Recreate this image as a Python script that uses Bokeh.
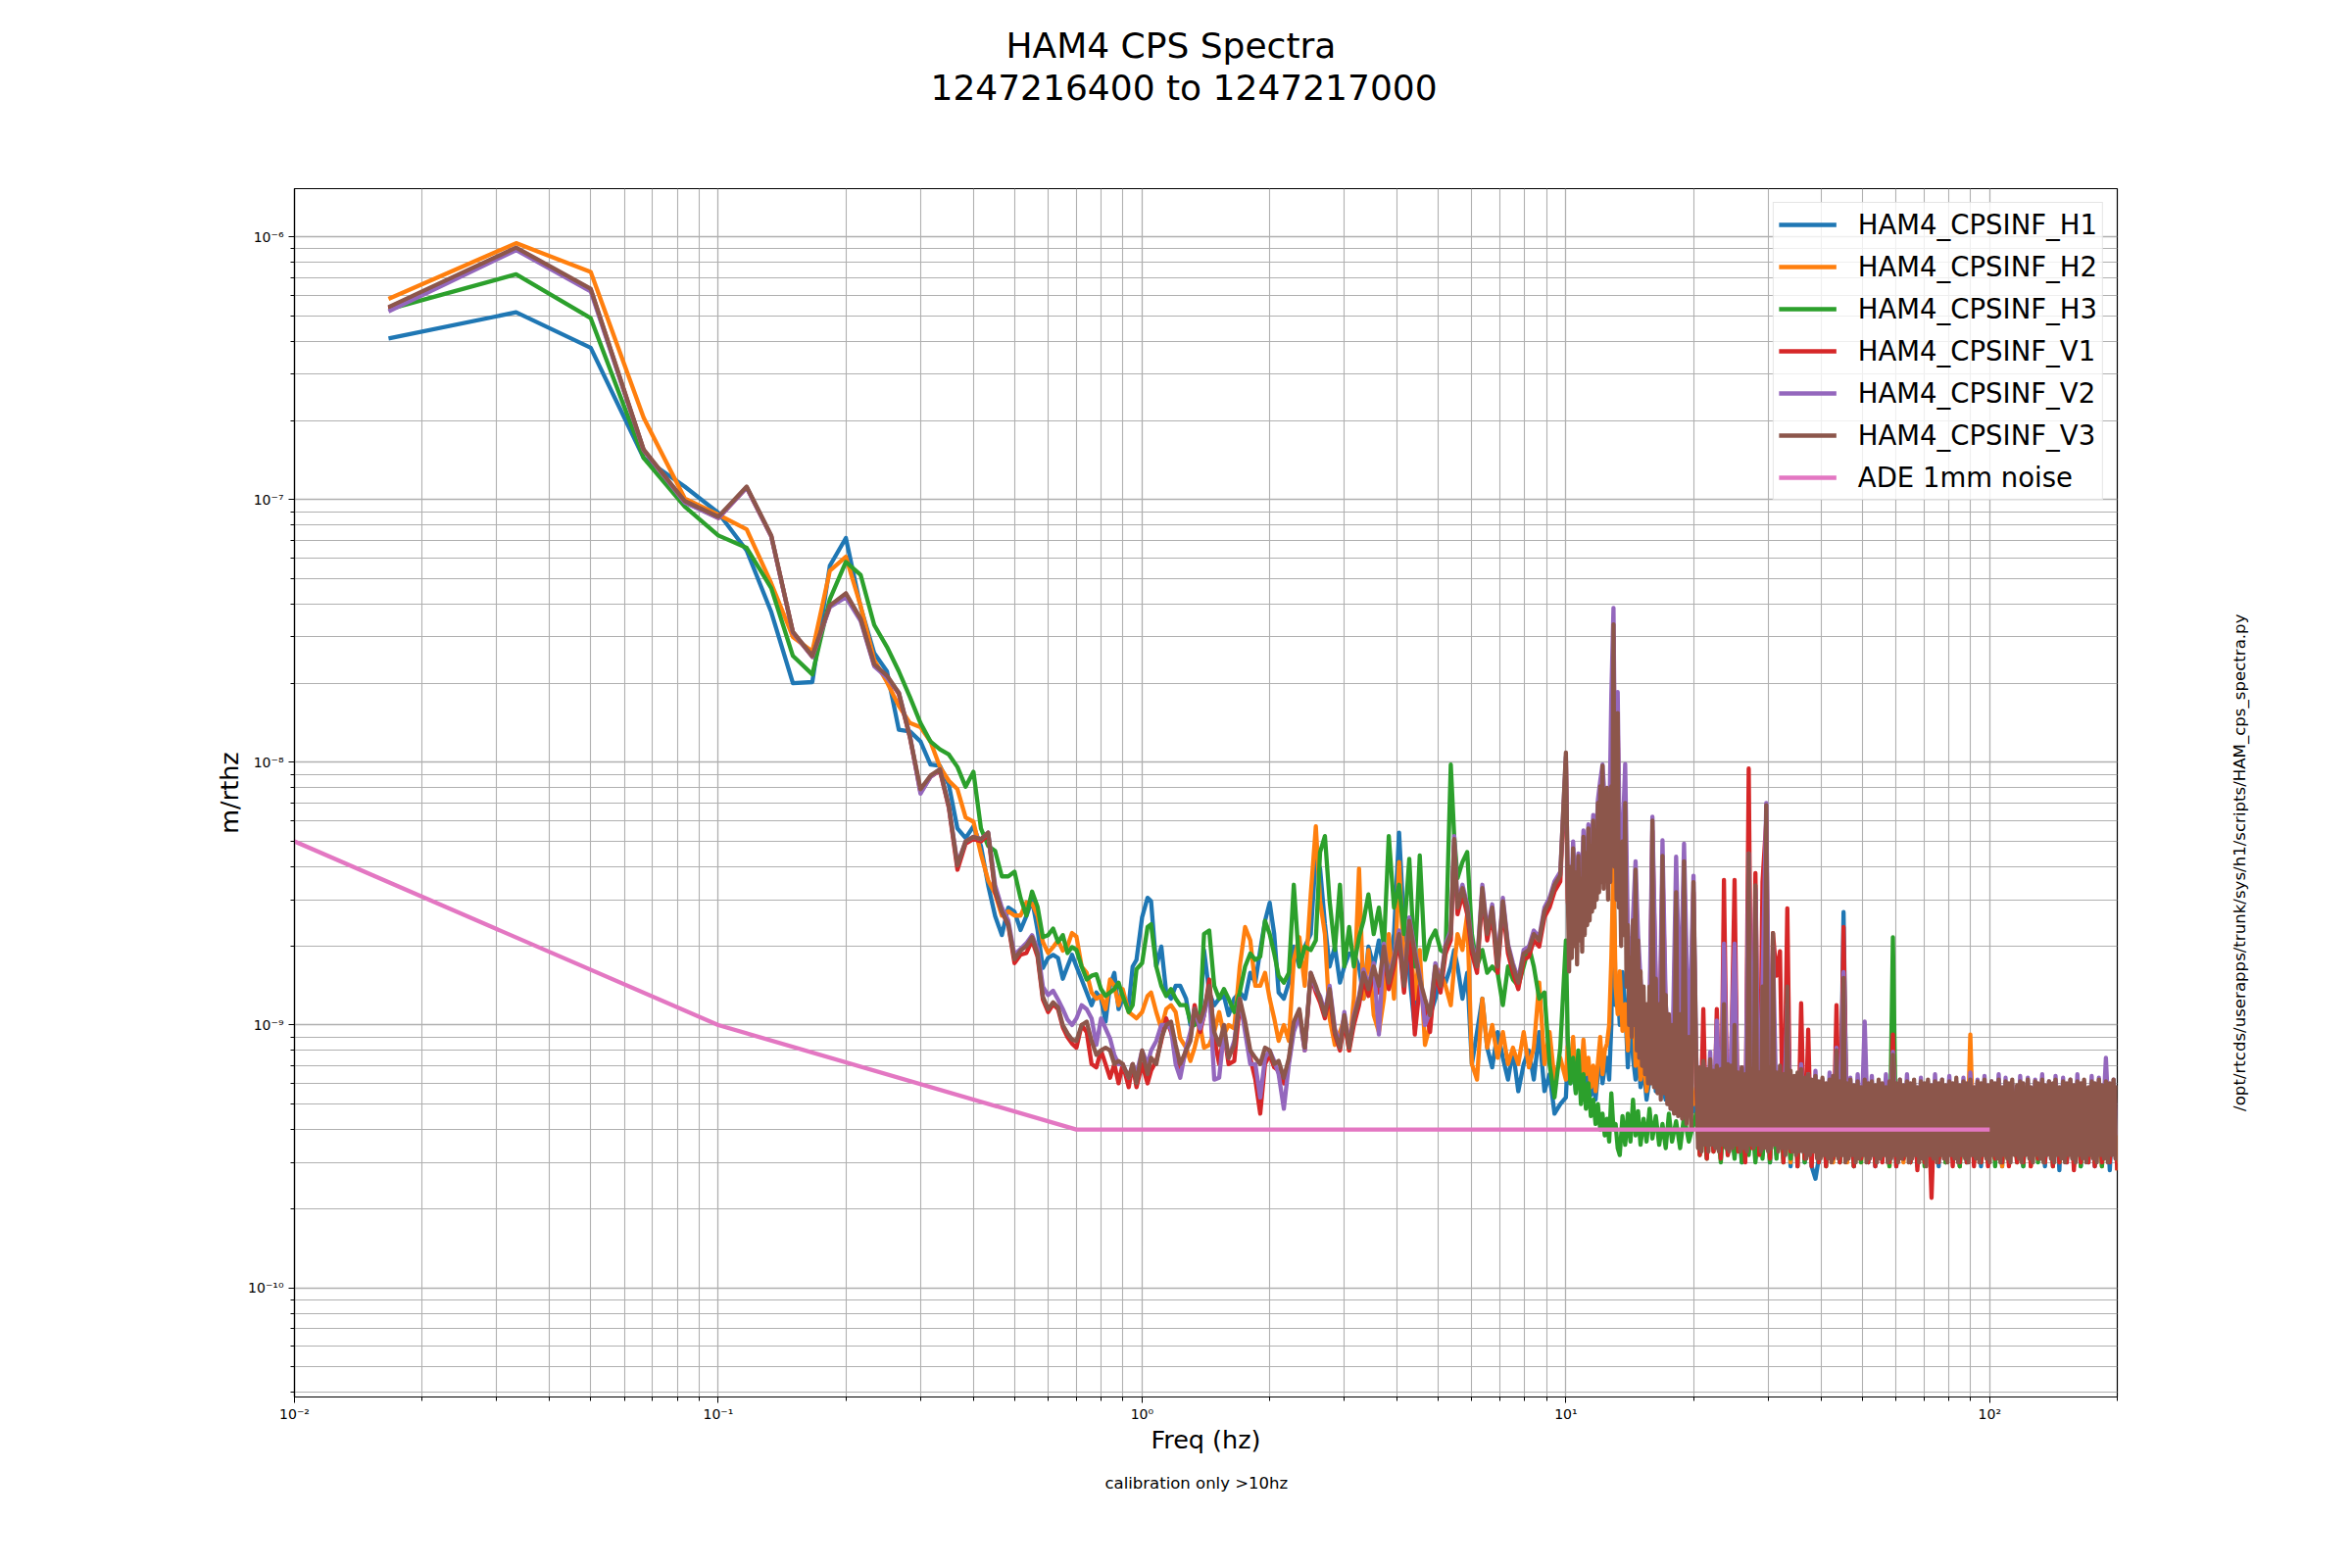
import math
import numpy as np
from bokeh.plotting import figure
from bokeh.layouts import row
from bokeh.core.properties import value
from bokeh.models import FixedTicker, CustomJSTickFormatter, Legend, LegendItem, Title
from bokeh.embed import file_html
from bokeh.resources import INLINE

# ---------------- data ----------------
UNIT = 1e-10          # spectral values below are given in units of 1e-10 m/rthz
BIN_HZ = 1.0 / 60.0   # FFT bin width

LOW_BINS = list(range(1, 42))

MID_F = [0.70, 0.72, 0.74, 0.76, 0.78, 0.80, 0.82, 0.84, 0.86, 0.88,
         0.90, 0.93, 0.95, 0.97, 1.00, 1.03, 1.05, 1.08, 1.11, 1.14,
         1.17, 1.20, 1.23, 1.27, 1.30, 1.33, 1.37, 1.40, 1.44, 1.48,
         1.52, 1.56, 1.60, 1.65, 1.70, 1.75, 1.80, 1.85, 1.90, 1.95,
         2.00, 2.05, 2.10, 2.16, 2.22, 2.28, 2.35, 2.42, 2.50, 2.57,
         2.63, 2.70, 2.77, 2.85, 2.93, 3.00, 3.08, 3.16, 3.25, 3.33,
         3.42, 3.52, 3.62, 3.72, 3.82, 3.93, 4.04, 4.15, 4.27, 4.40,
         4.52, 4.65, 4.78, 4.92, 5.06, 5.20, 5.35, 5.45, 5.55, 5.70,
         5.85, 6.00, 6.17, 6.35, 6.52, 6.70, 6.90, 7.10, 7.30, 7.50,
         7.72, 7.95, 8.18, 8.40, 8.65, 8.90, 9.15, 9.40, 9.70, 10.0]

MID2_F = [10.1, 10.25, 10.4, 10.55, 10.7, 10.85, 11.0, 11.15, 11.3, 11.45,
          11.6, 11.75, 11.9, 12.05, 12.2, 12.35, 12.5, 12.65, 12.8, 12.95,
          13.1, 13.25, 13.4, 13.6, 13.8, 14.0, 14.2, 14.4, 14.6, 14.8,
          15.0, 15.25, 15.5, 15.75, 16.0, 16.3, 16.6, 16.9, 17.2, 17.5,
          17.8, 18.2, 18.6, 19.0, 19.5, 20.0]

HIGH_F = [20.3, 20.7, 21.1, 21.5, 21.9, 22.3, 22.7, 23.2, 23.6, 24.1,
          24.5, 25.0, 25.5, 26.0, 26.5, 27.0, 27.5, 28.0, 28.6, 29.1,
          29.7, 30.3, 30.8, 31.4, 32.0, 32.6, 33.3, 33.9, 34.6, 35.2,
          35.9, 36.6, 37.3, 38.0, 38.8, 39.5, 40.3, 41.1, 41.9, 42.7,
          43.5, 44.3, 45.2, 46.1, 46.9, 47.8, 48.8, 49.7, 50.7, 51.7,
          52.7, 53.7, 54.7, 55.8, 56.9, 58.0, 59.1, 60.2, 61.4, 62.6,
          63.8, 65.0, 66.3, 67.5, 68.8, 70.2, 71.5, 72.9, 74.3, 75.8,
          77.2, 78.7, 80.3, 81.8, 83.4, 85.0, 86.7, 88.3, 90.0, 91.8,
          93.6, 95.4, 97.2, 99.1, 101, 103, 105, 107, 109, 111,
          113, 116, 118, 120, 123, 125, 128, 130, 133, 135,
          138, 141, 143, 146, 149, 152, 155, 158, 161, 164,
          167, 171, 174, 177, 181, 184, 188, 192, 196, 200]


def refine(freqs):
    """Sampling grid with one extra frequency between each pair (for the densest trace)."""
    out = []
    for a, b in zip(freqs[:-1], freqs[1:]):
        out += [a, round(math.sqrt(a * b), 3)]
    out.append(freqs[-1])
    return out


MID2_F_FINE = refine(MID2_F)   # 91 frequencies
HIGH_F_FINE = refine(HIGH_F)   # 239 frequencies

# ---- HAM4_CPSINF_H1 ----
H1_LOW = [4100, 5160, 3780, 1440, 1120, 890, 640, 373, 200, 202,
          560, 714, 390, 260, 222, 133, 131, 120, 98, 97,
          82, 56, 51.5, 57, 48, 34, 26, 22, 28, 27,
          23, 26, 30, 23, 16.5, 18, 18.5, 18, 15, 16.7, 18.5]
H1_MID = [16.7, 14.9, 13.3, 11.9, 13.3, 12.6, 10.3, 14.1, 15.8, 11.5,
          12.6, 11.9, 16.7, 17.7, 25.7, 30.5, 29.6, 16.7, 19.9, 13.3,
          12.6, 14.1, 14.1, 12.6, 10, 10.3, 10.6, 19.3, 13.3, 11.9,
          12.6, 12.9, 10.9, 12.6, 13.3, 12.6, 15.8, 14.5, 19.3, 24.9,
          29.2, 22.2, 13.3, 12.6, 14.5, 19.9, 16.7, 19.9, 22.2, 44.2,
          39.4, 24.2, 16.7, 19.9, 14.5, 16.7, 18.7, 18.7, 16.7, 12.6,
          19.9, 16.7, 21, 15.8, 16.7, 22.2, 54, 23.6, 15.8, 9.7,
          16.7, 10.3, 10.9, 12.6, 15.8, 14.5, 16.7, 19.3, 16.7, 12.6,
          15.8, 7.1, 9.4, 12.6, 8.2, 6.9, 9.4, 7.5, 6.2, 8.0,
          5.6, 7.1, 8.0, 6.2, 9.4, 5.6, 6.5, 4.6, 5.0, 5.3]
H1_MID2 = [7.5, 6.0, 8.3, 5.6, 6.9, 5.8, 7.7, 6.0, 6.9, 5.4,
           6.2, 5.2, 6.5, 8.3, 6.0, 6.9, 7.5, 6.2, 10, 40,
           11.9, 14.3, 10, 15.9, 11.9, 6.9, 11.5, 7.5, 6.2, 8.3,
           5.8, 6.9, 5.2, 6.2, 8.3, 5.6, 6.5, 5.8, 5.2, 6.2,
           4.8, 5.6, 6.0, 4.8, 5.4, 4.7]
H1_HIGH = [5.5, 3.3, 5.8, 3.2, 5.4, 3.4, 5.9, 3.1, 5.6, 3.3,
           5.3, 3.2, 5.7, 3.0, 5.5, 3.3, 5.8, 3.1, 5.4, 3.2,
           5.6, 3.0, 5.5, 3.2, 5.7, 3.1, 5.3, 2.9, 5.6, 3.1,
           5.4, 3.0, 5.7, 2.9, 2.6, 3.1, 5.5, 3.0, 5.8, 3.1,
           5.4, 3.0, 26.9, 3.1, 5.6, 2.9, 5.5, 3.1, 5.3, 3.0,
           5.7, 2.9, 5.4, 3.1, 5.6, 3.0, 5.5, 2.9, 5.3, 3.1,
           5.6, 3.0, 5.4, 2.9, 5.7, 3.1, 5.5, 3.0, 5.3, 2.9,
           5.6, 3.0, 5.4, 3.1, 5.5, 2.9, 5.7, 3.0, 5.4, 3.1,
           5.5, 2.9, 5.6, 3.0, 5.4, 3.1, 5.7, 2.9, 5.5, 3.0,
           5.4, 3.1, 5.6, 2.9, 5.5, 3.0, 5.7, 3.1, 5.4, 2.9,
           5.6, 3.0, 5.5, 2.8, 5.7, 3.0, 5.4, 3.1, 5.6, 2.9,
           5.5, 3.0, 5.7, 2.9, 5.4, 3.1, 5.6, 2.8, 5.5, 3.0]

# ---- HAM4_CPSINF_H2 ----
H2_LOW = [5800, 9460, 7350, 2050, 1010, 875, 770, 480, 300, 264,
          536, 606, 394, 245, 202, 164, 141, 136, 120, 96,
          85, 79, 61.7, 59.4, 44.7, 35.5, 31.6, 26.1, 27.1, 26.1,
          26.1, 29.3, 29, 26.1, 20.7, 18.8, 19.8, 21, 19.2, 20, 22.4]
H2_MID = [21.7, 16.7, 15.8, 13.3, 12.6, 12.9, 11.5, 14.9, 14.1, 11.9,
          13.7, 11.2, 10.9, 10.6, 11.2, 12.9, 13.3, 11.2, 9.7, 11.5,
          11.9, 11.2, 8.9, 8.2, 7.3, 8.2, 10, 8.2, 8.4, 9.4,
          11.2, 9.2, 10, 9.7, 16.7, 23.6, 21, 14.1, 14.1, 15.8,
          12.6, 10.6, 8.7, 10, 8.7, 17.7, 21.6, 14.1, 31.4, 57.1,
          29.6, 22.2, 10.6, 8.4, 9.4, 10.6, 8.0, 12.6, 39.4, 12.6,
          19.3, 10.9, 9.4, 12.6, 22.2, 12.6, 41.7, 16.7, 23.6, 12.6,
          19.3, 8.4, 10, 16.7, 15.8, 14.1, 11.9, 16.7, 22.2, 19.3,
          26.4, 7.1, 6.2, 12.6, 8.2, 10, 7.5, 9.4, 7.1, 8.2,
          7.1, 9.4, 6.9, 8.2, 14.5, 7.1, 9.4, 6.2, 7.5, 6.2]
H2_MID2 = [8.3, 6.5, 9.0, 6.0, 7.5, 6.2, 8.8, 6.5, 7.5, 5.8,
           7.0, 5.6, 7.2, 9.0, 6.5, 8.0, 8.5, 10, 18, 42,
           14, 11, 16, 9.5, 12, 8, 13, 14, 7, 9,
           6.2, 7.5, 5.6, 6.9, 8.5, 6.0, 7.0, 6.2, 5.6, 6.9,
           5.2, 6.0, 6.5, 5.4, 5.8, 5.0]
H2_HIGH = [5.8, 3.4, 6.0, 3.3, 5.6, 3.5, 5.9, 3.2, 5.7, 3.4,
           5.5, 3.3, 5.8, 3.1, 5.6, 3.4, 5.9, 3.2, 5.5, 3.3,
           5.7, 3.1, 5.6, 3.3, 5.8, 3.2, 5.4, 3.0, 5.7, 3.2,
           5.5, 3.1, 5.8, 3.0, 5.6, 3.2, 5.4, 3.1, 5.7, 3.0,
           5.5, 3.1, 5.8, 3.0, 5.6, 3.2, 5.5, 3.0, 5.7, 3.1,
           5.4, 3.0, 5.6, 3.1, 5.8, 2.9, 5.5, 3.1, 5.6, 3.0,
           5.7, 3.1, 5.5, 3.0, 5.6, 3.2, 5.4, 3.0, 5.8, 3.1,
           5.5, 3.0, 5.7, 3.1, 5.6, 2.9, 5.5, 3.1, 9.2, 3.0,
           5.6, 3.1, 5.5, 3.0, 5.7, 3.1, 5.4, 2.9, 5.6, 3.0,
           5.5, 3.1, 5.7, 3.0, 5.6, 2.9, 5.5, 3.1, 5.8, 3.0,
           5.6, 3.1, 5.5, 3.0, 5.7, 3.1, 5.4, 2.9, 5.6, 3.0,
           5.5, 3.1, 5.8, 3.0, 5.6, 2.9, 5.7, 3.1, 5.5, 2.8]

# ---- HAM4_CPSINF_H3 ----
H3_LOW = [5300, 7200, 4900, 1440, 940, 730, 655, 460, 254, 216,
          418, 579, 517, 333, 275, 222, 177, 141, 120, 112,
          107, 96, 80.7, 92, 56, 48, 46, 36.8, 36.8, 38.3,
          30.4, 26.1, 32.2, 28.2, 21.6, 22, 23.3, 20.7, 22, 18.8, 19.8]
H3_MID = [19.3, 16.7, 14.9, 15.4, 15.6, 13.7, 12.9, 13.3, 13.7, 14.5,
          12.9, 11.2, 11.9, 16.3, 17.2, 23.6, 24.2, 16.7, 14.1, 12.9,
          13.7, 12.6, 11.9, 11.9, 10.3, 10, 10.9, 22.2, 22.9, 14.1,
          12.6, 13.7, 12.6, 11.2, 13.3, 16.7, 18.7, 17.7, 18.2, 24.9,
          22.2, 18.7, 15.4, 14.5, 15.8, 34.2, 16.7, 19.9, 19.3, 21,
          45.5, 52.4, 29.6, 19.3, 34.2, 16.7, 23.6, 16.7, 21.6, 24.9,
          31.4, 22.2, 28, 19.9, 52.4, 28, 34.2, 22.2, 42.9, 16.7,
          44.2, 17.7, 21, 22.9, 19.3, 18.7, 98, 52.4, 36.2, 41.7,
          45.5, 22.2, 16.7, 19.3, 15.8, 16.7, 15.8, 11.9, 16.7, 14.9,
          14.1, 16.7, 19.9, 16.7, 12.6, 13.3, 7.1, 5.3, 8.2, 21]
H3_MID2 = [9, 6, 7.5, 5.5, 8, 5, 6.5, 4.8, 6, 4.5,
           5.2, 4.2, 5.0, 4.0, 4.6, 3.8, 4.4, 3.6, 5.5, 4.0,
           4.2, 3.4, 3.2, 4.5, 3.5, 4.6, 3.6, 5.2, 3.8, 4.7,
           3.5, 4.4, 3.6, 4.8, 3.7, 4.5, 3.5, 4.2, 3.4, 4.6,
           3.6, 4.3, 3.4, 4.5, 3.6, 4.2]
H3_HIGH = [4.6, 3.2, 4.4, 3.1, 4.8, 3.3, 4.5, 3.0, 4.7, 3.2,
           4.4, 3.1, 4.6, 3.0, 4.8, 3.2, 4.5, 3.0, 4.7, 3.1,
           5.0, 3.0, 5.2, 3.1, 5.3, 3.0, 5.4, 3.1, 5.2, 2.9,
           5.5, 3.0, 5.3, 3.1, 5.6, 3.0, 5.4, 2.9, 5.5, 3.1,
           5.3, 3.0, 5.6, 3.1, 5.4, 2.9, 5.5, 3.0, 5.3, 3.1,
           5.6, 3.0, 5.4, 3.1, 5.5, 2.9, 21.6, 3.0, 5.4, 3.1,
           5.5, 3.0, 5.3, 3.1, 5.6, 2.9, 5.4, 3.0, 5.5, 3.1,
           5.3, 3.0, 5.6, 3.1, 5.4, 2.9, 5.5, 3.0, 5.3, 3.1,
           5.6, 3.0, 5.4, 3.1, 5.5, 2.9, 5.3, 3.0, 5.6, 3.1,
           5.4, 3.0, 5.5, 2.9, 5.6, 3.1, 5.3, 3.0, 5.5, 3.1,
           5.4, 2.9, 5.6, 3.0, 5.3, 3.1, 5.5, 3.0, 5.4, 2.9,
           5.6, 3.1, 5.4, 3.0, 5.5, 2.9, 5.3, 3.1, 5.6, 3.0]

# ---- HAM4_CPSINF_V1 ----
V1_LOW = [5350, 9000, 6300, 1540, 980, 850, 1110, 725, 312, 252,
          392, 436, 350, 234, 212, 182, 124, 77, 88, 93,
          67, 39, 49, 51, 50, 53, 32, 27, 24, 17.2,
          18.5, 18.8, 21, 18.2, 12.5, 11.2, 12, 11.5, 9.8, 9.0, 8.5]
V1_MID = [8.2, 10, 9.4, 7.1, 6.9, 8.0, 7.1, 6.3, 7.1, 6.0,
          7.1, 5.8, 7.1, 5.8, 7.1, 6.0, 6.7, 7.3, 8.7, 10.6,
          9.4, 8.2, 6.7, 8.0, 8.9, 11.9, 9.4, 10.9, 14.9, 8.9,
          7.1, 9.4, 7.1, 7.3, 11.9, 10, 7.5, 6.2, 4.6, 7.1,
          7.7, 6.9, 6.7, 6.0, 7.3, 10, 11.2, 8.0, 15.4, 13.3,
          12.2, 10.6, 12.9, 9.2, 8.0, 10.3, 8.0, 10, 11.9, 14.9,
          12.9, 15.8, 13.3, 18.7, 13.7, 16.7, 21, 13.3, 23.6, 9.2,
          14.1, 11.9, 9.4, 15.8, 13.3, 18.7, 21, 48.2, 26.4, 31.4,
          26.4, 18.7, 15.8, 31.4, 21, 26.4, 15.8, 28, 18.7, 15.8,
          13.7, 17.7, 18.2, 21, 19.9, 25.7, 28, 32.2, 35.2, 100]
V1_MID2 = [30, 22, 42, 25, 38, 24, 47, 29, 50, 36,
           55, 38, 63, 72, 85, 62, 68, 45, 72, 300,
           45, 140, 38, 42, 62, 18, 12, 22, 35, 18,
           12, 9, 7.5, 9, 55, 13, 6.2, 40, 10.5, 7.5,
           5.3, 29, 9, 38, 6.2, 32]
V1_HIGH = [6.0, 3.2, 11.5, 3.1, 6.2, 3.3, 11.5, 3.1, 35.7, 3.2,
           6.0, 35.7, 3.3, 5.6, 3.0, 94.7, 3.4, 37.9, 3.2, 35,
           60, 3.1, 22.4, 15.4, 19.1, 3.0, 27.8, 3.3, 5.5, 2.9,
           12.1, 3.1, 9.6, 2.9, 5.6, 3.0, 5.3, 2.9, 5.7, 3.1,
           11.9, 3.0, 23.6, 3.1, 5.4, 2.9, 5.6, 3.1, 5.2, 3.0,
           5.5, 2.9, 5.3, 3.0, 5.6, 3.0, 9.2, 2.9, 5.4, 3.1,
           5.6, 3.0, 5.2, 2.8, 5.5, 3.0, 5.3, 2.2, 5.6, 3.0,
           5.4, 3.1, 5.5, 2.9, 5.3, 3.0, 5.5, 3.0, 5.7, 2.9,
           5.4, 3.0, 5.6, 2.9, 5.3, 3.1, 5.6, 3.0, 5.5, 2.9,
           5.2, 3.0, 5.6, 3.0, 5.5, 2.9, 5.4, 3.1, 5.6, 3.0,
           5.3, 2.9, 5.6, 3.0, 5.5, 3.0, 5.4, 2.8, 5.6, 3.0,
           5.3, 3.0, 5.6, 2.9, 5.5, 3.0, 5.6, 3.0, 5.4, 2.8]

# ---- HAM4_CPSINF_V2 ----
V2_LOW = [5200, 8900, 6200, 1540, 975, 850, 1110, 725, 312, 252,
          390, 425, 345, 232, 210, 184, 126, 76, 88, 94,
          68, 41, 50, 52, 51, 54, 34, 28, 25, 18.5,
          19.5, 20.5, 22, 19.5, 14, 13, 13.5, 12.5, 11.5, 10.5, 10]
V2_MID = [10.6, 11.9, 11.5, 10.6, 8.4, 10.6, 9.7, 8.9, 7.7, 7.1,
          7.1, 6.3, 7.1, 6.5, 8.0, 7.1, 8.0, 8.7, 10, 10,
          9.7, 7.1, 6.3, 8.2, 9.4, 11.5, 9.7, 10.9, 13.7, 6.2,
          6.3, 9.4, 7.5, 8.7, 12.6, 9.4, 7.1, 7.1, 5.3, 7.5,
          8.0, 7.3, 6.5, 4.8, 7.1, 9.4, 10.9, 8.0, 15.8, 13.7,
          12.9, 11.2, 14.1, 9.7, 8.4, 11.2, 8.4, 10.9, 12.9, 16.3,
          14.1, 17.2, 9.2, 20.4, 14.9, 18.2, 22.9, 14.5, 25.7, 19.3,
          15.4, 10, 11.2, 17.2, 14.5, 20.4, 22.9, 52.4, 28.8, 34.2,
          28.8, 20.4, 17.2, 34.2, 22.9, 28.8, 17.2, 30.5, 20.4, 17.2,
          14.9, 19.3, 19.9, 22.9, 21.6, 28, 30.5, 35.2, 38.3, 105]
V2_MID2 = [36, 26, 50, 29, 45, 29, 55, 33, 58, 42,
           63, 45, 72, 85, 98, 72, 78, 53, 180, 387,
           55, 185, 45, 50, 98.5, 22, 15, 26, 42, 22,
           15, 11, 9, 11, 62, 15, 7.5, 50.5, 12, 9,
           6.2, 43.7, 11, 49, 7.5, 37]
V2_HIGH = [7.6, 3.9, 7.2, 3.8, 7.9, 4.0, 10.4, 3.9, 20.4, 4.0,
           7.4, 20.4, 4.1, 6.9, 3.8, 45, 4.4, 33, 4.0, 14,
           70, 4.2, 20, 4.5, 5.2, 4.0, 12, 4.3, 5.5, 3.8,
           7.1, 3.8, 6.5, 3.6, 6.7, 3.7, 6.2, 3.6, 6.6, 3.8,
           8.2, 3.6, 15.9, 3.7, 6.3, 3.6, 6.5, 3.8, 10.3, 3.6,
           6.4, 3.5, 6.1, 3.7, 6.5, 3.6, 7.9, 3.5, 6.2, 3.7,
           6.5, 3.6, 6.0, 3.4, 6.3, 3.7, 6.1, 3.5, 6.5, 3.6,
           6.2, 3.8, 6.4, 3.5, 6.1, 3.7, 6.3, 3.6, 6.6, 3.5,
           6.2, 3.7, 6.4, 3.5, 6.1, 3.8, 6.5, 3.6, 6.3, 3.5,
           6.0, 3.7, 6.4, 3.6, 6.3, 3.5, 6.2, 3.8, 6.5, 3.6,
           6.1, 3.5, 6.4, 3.7, 6.3, 3.6, 6.2, 3.4, 6.5, 3.7,
           6.1, 3.6, 6.4, 3.5, 6.3, 3.7, 7.5, 3.6, 6.2, 3.8]

# ---- HAM4_CPSINF_V3 (densest trace: read on the finer grids) ----
V3_LOW = [5400, 9100, 6340, 1550, 987, 860, 1120, 730, 314, 254,
          395, 440, 352, 236, 214, 184, 125, 79, 89, 94,
          68, 40.5, 50, 52, 51, 54, 32.8, 27.1, 24.2, 17.8,
          19.2, 20, 21.6, 18.7, 12.8, 11.5, 12.2, 11.7, 10, 9.3, 8.8]
V3_MID = [8.7, 10, 10.3, 8.7, 7.7, 8.0, 8.2, 8.0, 7.1, 7.3,
          7.1, 6.3, 7.1, 6.0, 8.0, 6.5, 7.5, 7.1, 8.9, 10,
          10.3, 8.4, 7.1, 8.0, 8.7, 11.5, 10.3, 11.5, 14.1, 9.4,
          8.4, 10, 7.5, 8.4, 12.6, 10.3, 8.0, 7.5, 7.1, 8.2,
          8.0, 7.1, 7.3, 6.3, 7.5, 10.3, 11.5, 8.2, 15.8, 14.1,
          12.6, 10.9, 13.7, 9.4, 8.2, 10.9, 8.2, 10.6, 12.6, 15.8,
          13.7, 16.7, 14.1, 19.9, 14.5, 17.7, 22.2, 14.1, 24.9, 18.7,
          14.9, 12.6, 10.9, 16.7, 14.1, 19.9, 22.2, 51, 28, 33.2,
          28, 19.9, 16.7, 33.2, 22.2, 28, 16.7, 29.6, 19.9, 16.7,
          14.5, 18.7, 19.3, 22.2, 21, 27.2, 29.6, 34.2, 37.2, 109]
V3_MID2 = [34, 16, 40, 18, 47, 20, 38, 17, 44, 21,
           36, 19, 52, 22, 45, 24, 56, 25, 48, 27,
           60, 28, 55, 30, 70, 32, 81, 35, 97, 33,
           75, 38, 80, 30, 60, 35, 81, 45, 335, 40,
           60, 30, 154, 28, 48, 20, 50, 22, 70, 14,
           24, 10, 18, 9, 25, 10, 39, 8, 21, 7.5,
           16, 7, 14, 6.5, 12, 6, 14, 6, 60, 5.8,
           15, 5.5, 12, 5.2, 44, 5.5, 13, 5, 11, 4.8,
           10, 4.6, 32, 4.5, 11, 4.4, 42, 4.2, 9, 4.0,
           35]
V3_HIGH = [7.2, 3.4, 6.9, 3.3, 7.3, 3.5, 6.8, 3.3, 7.4, 3.5,
           6.7, 3.4, 7.0, 3.3, 6.8, 3.5, 12, 3.4, 7.1, 3.3,
           7.0, 3.4, 10, 3.5, 6.6, 3.3, 6.9, 3.4, 6.5, 3.3,
           45, 3.5, 6.8, 3.4, 34, 3.5, 6.6, 3.3, 14, 3.4,
           68.6, 3.3, 6.9, 3.4, 22.4, 3.5, 6.6, 3.3, 7.0, 3.4,
           6.5, 3.2, 14, 3.4, 6.7, 3.3, 6.4, 3.2, 6.6, 3.3,
           6.8, 3.3, 6.3, 3.1, 6.5, 3.2, 6.2, 3.3, 6.4, 3.1,
           6.1, 3.1, 6.3, 3.2, 6.0, 3.1, 6.2, 3.0, 6.4, 3.2,
           8.0, 3.1, 6.1, 3.2, 15.1, 3.0, 6.0, 3.1, 6.2, 3.2,
           5.9, 3.0, 6.1, 3.1, 5.8, 3.2, 6.2, 3.0, 6.0, 3.1,
           6.1, 3.2, 5.9, 3.0, 6.2, 3.1, 6.0, 3.2, 5.8, 3.0,
           6.1, 3.1, 7.7, 3.2, 6.0, 3.0, 6.2, 3.1, 5.9, 3.2,
           6.1, 3.0, 6.0, 3.1, 6.2, 3.2, 5.8, 3.0, 6.1, 3.1,
           6.0, 2.9, 6.2, 3.2, 5.9, 3.1, 6.1, 3.0, 6.0, 3.2,
           6.2, 3.1, 5.9, 3.0, 6.1, 3.2, 6.0, 3.1, 6.3, 3.0,
           5.9, 3.2, 6.1, 3.1, 6.0, 3.0, 6.2, 3.2, 5.8, 3.1,
           6.1, 3.0, 6.0, 3.2, 6.2, 3.1, 5.9, 3.0, 6.1, 3.2,
           6.0, 3.1, 6.2, 3.0, 5.8, 3.2, 6.1, 3.1, 6.0, 3.0,
           6.2, 3.2, 5.9, 3.1, 6.1, 3.0, 6.0, 3.2, 6.2, 3.1,
           5.8, 3.0, 6.1, 3.2, 6.0, 3.1, 6.2, 3.0, 5.9, 3.2,
           6.1, 3.1, 6.0, 3.0, 6.2, 3.2, 5.8, 3.1, 6.1, 3.0,
           6.0, 3.2, 6.2, 3.1, 5.9, 3.0, 6.1, 3.2, 6.0, 3.1,
           6.2, 3.0, 5.8, 3.2, 6.1, 3.1, 6.0, 3.0, 6.2, 3.2,
           5.9, 3.1, 6.1, 3.0, 6.0, 3.2, 6.2, 3.1, 5.9]

# ---- ADE 1mm noise ----
ADE_F = [0.01, 0.1, 0.7, 100]
ADE_V = [5e-9, 1e-9, 4e-10, 4e-10]

NAMES = ["HAM4_CPSINF_H1", "HAM4_CPSINF_H2", "HAM4_CPSINF_H3",
         "HAM4_CPSINF_V1", "HAM4_CPSINF_V2", "HAM4_CPSINF_V3"]
COLORS = ["#1f77b4", "#ff7f0e", "#2ca02c", "#d62728", "#9467bd", "#8c564b"]
ADE_COLOR = "#e377c2"

SERIES = [
    (H1_LOW, H1_MID, MID2_F, H1_MID2, HIGH_F, H1_HIGH),
    (H2_LOW, H2_MID, MID2_F, H2_MID2, HIGH_F, H2_HIGH),
    (H3_LOW, H3_MID, MID2_F, H3_MID2, HIGH_F, H3_HIGH),
    (V1_LOW, V1_MID, MID2_F, V1_MID2, HIGH_F, V1_HIGH),
    (V2_LOW, V2_MID, MID2_F, V2_MID2, HIGH_F, V2_HIGH),
    (V3_LOW, V3_MID, MID2_F_FINE, V3_MID2, HIGH_F_FINE, V3_HIGH),
]

TITLE_1 = "HAM4 CPS Spectra"
TITLE_2 = "1247216400 to 1247217000"
FOOTNOTE = "calibration only >10hz"
SCRIPT_PATH = "/opt/rtcds/userapps/trunk/sys/h1/scripts/HAM_cps_spectra.py"

# ---------------- main figure ----------------
FONT = "DejaVu Sans"

p = figure(width=2230, height=1584,
           x_axis_type="log", y_axis_type="log",
           x_range=(0.01, 200), y_range=(3.84e-11, 1.525e-6),
           output_backend="svg", toolbar_location=None,
           min_border_left=300, min_border_right=70,
           min_border_top=192, min_border_bottom=159)
p.title.visible = False
p.background_fill_color = "white"
p.border_fill_color = "white"
p.outline_line_color = "black"
p.outline_line_width = 1.2

x_major = [10.0 ** e for e in range(-2, 3)]
x_minor = [m * 10.0 ** e for e in range(-2, 3) for m in range(2, 10) if m * 10.0 ** e <= 200]
y_major = [10.0 ** e for e in range(-10, -5)]
y_minor = [m * 10.0 ** e for e in range(-11, -5) for m in range(2, 10)]

xt = FixedTicker(ticks=x_major, minor_ticks=x_minor)
yt = FixedTicker(ticks=y_major, minor_ticks=y_minor)

fmt_code = """
const sup = {"-": "\\u207b", "0": "\\u2070", "1": "\\u00b9", "2": "\\u00b2", "3": "\\u00b3",
             "4": "\\u2074", "5": "\\u2075", "6": "\\u2076", "7": "\\u2077", "8": "\\u2078", "9": "\\u2079"};
const e = Math.round(Math.log10(tick));
return "10" + String(e).split("").map(c => sup[c]).join("");
"""

for ax, tk in ((p.xaxis, xt), (p.yaxis, yt)):
    ax.ticker = tk
    ax.formatter = CustomJSTickFormatter(code=fmt_code)
    ax.major_label_text_font = FONT
    ax.major_label_text_font_size = "14px"
    ax.major_label_text_color = "black"
    ax.axis_line_color = "black"
    ax.axis_line_width = 1.2
    ax.major_tick_line_color = "black"
    ax.minor_tick_line_color = "black"
    ax.major_tick_out = 6
    ax.major_tick_in = 0
    ax.minor_tick_out = 4
    ax.minor_tick_in = 0
    ax.axis_label_text_font = FONT
    ax.axis_label_text_font_size = "25.5px"
    ax.axis_label_text_font_style = "normal"
    ax.axis_label_text_color = "black"

p.xaxis.axis_label = "Freq (hz)"
p.yaxis.axis_label = "m/rthz"
p.xaxis.major_label_standoff = 3
p.yaxis.major_label_standoff = 5
p.xaxis.axis_label_standoff = 0
p.yaxis.axis_label_standoff = 1

p.xgrid.ticker = xt
p.ygrid.ticker = yt
for g in (p.xgrid, p.ygrid):
    g.grid_line_color = "#b0b0b0"
    g.grid_line_width = 1.3
    g.minor_grid_line_color = "#b0b0b0"
    g.minor_grid_line_width = 1.1

items = []
for name, color, parts in zip(NAMES, COLORS, SERIES):
    low, mid, f2, mid2, f3, high = parts
    assert len(low) == len(LOW_BINS) and len(mid) == len(MID_F)
    assert len(mid2) == len(f2) and len(high) == len(f3)
    freq = np.concatenate([np.array(LOW_BINS) * BIN_HZ, MID_F, f2, f3])
    vals = np.concatenate([low, mid, mid2, high]) * UNIT
    r = p.line(freq, vals, line_color=color, line_width=4.3, line_join="round")
    items.append(LegendItem(label=name, renderers=[r]))

r_ade = p.line(ADE_F, ADE_V, line_color=ADE_COLOR, line_width=4.3, line_join="round")
items.append(LegendItem(label="ADE 1mm noise", renderers=[r_ade]))

legend = Legend(items=items, location="top_right")
legend.label_text_font = FONT
legend.label_text_font_size = "27.5px"
legend.label_text_color = "black"
legend.glyph_width = 59
legend.glyph_height = 34
legend.label_height = 34
legend.label_standoff = 22
legend.spacing = 9
legend.padding = 5
legend.margin = 14
legend.border_line_color = "#cccccc"
legend.border_line_width = 1.5
legend.background_fill_color = "white"
legend.background_fill_alpha = 0.8
p.add_layout(legend)

# ---- title block (stacked upward from the frame) ----
p.add_layout(Title(text=" ", text_font_size="10px", standoff=70), "above")
p.add_layout(Title(text=TITLE_2, text_font=FONT, text_font_size="36px", text_font_style="normal",
                   text_color="black", align="left", offset=649, standoff=0), "above")
p.add_layout(Title(text=TITLE_1, text_font=FONT, text_font_size="36px", text_font_style="normal",
                   text_color="black", align="left", offset=726, standoff=0), "above")

# ---- footnote below the x axis ----
p.add_layout(Title(text=FOOTNOTE, text_font=FONT, text_font_size="16.5px", text_font_style="normal",
                   text_color="black", align="left", offset=827, vertical_align="top",
                   standoff=34), "below")

# ---------------- side strip with the script path (reads bottom to top) ----------------
SIDE_W, SIDE_H = 154, 1584
side = figure(width=SIDE_W, height=SIDE_H, x_range=(0, SIDE_W), y_range=(0, SIDE_H),
              output_backend="svg", toolbar_location=None,
              x_axis_location=None, y_axis_location=None, min_border=0)
side.title.visible = False
side.outline_line_color = None
side.background_fill_color = "white"
side.border_fill_color = "white"
side.xgrid.visible = False
side.ygrid.visible = False
side.text(x=[55], y=[SIDE_H - 883.5], text=[SCRIPT_PATH], angle=math.pi / 2,
          text_align="center", text_baseline="middle",
          text_font=value(FONT), text_font_size="16.6px", text_color="black")

layout = row(p, side)
open("out.html", "w").write(file_html(layout, INLINE))
